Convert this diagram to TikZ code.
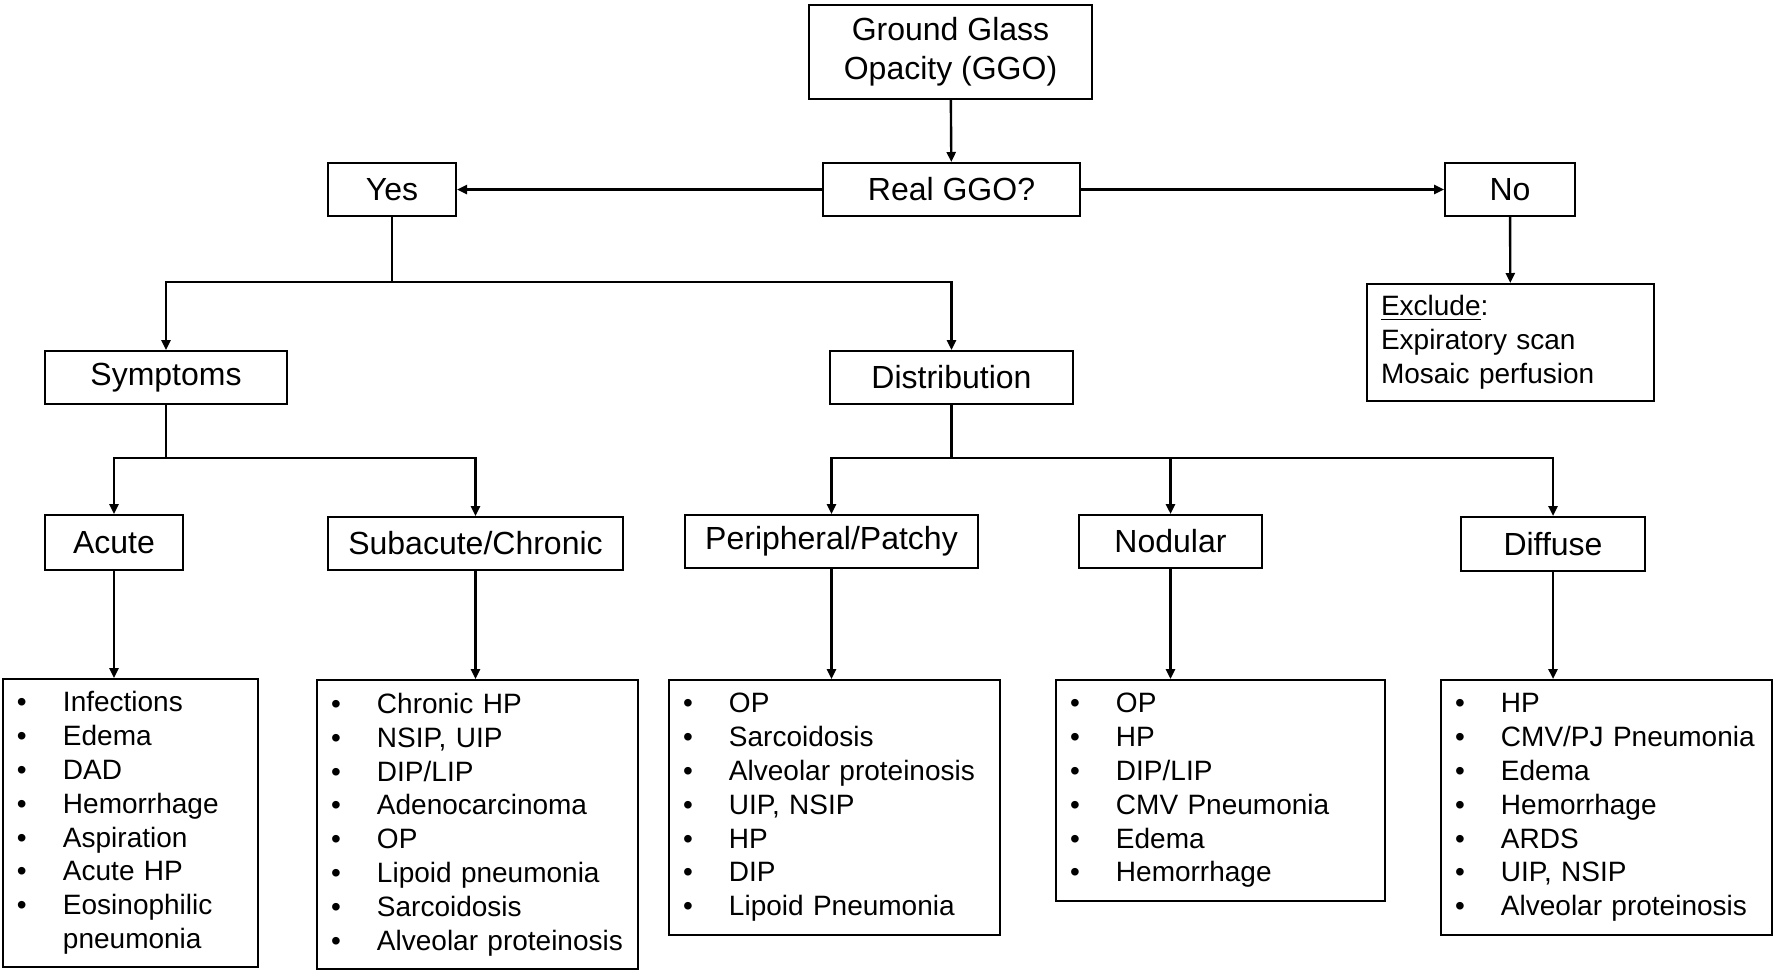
\documentclass[tikz,border=0pt]{standalone}
\usepackage{fontspec}
\setmainfont{Liberation Sans}
\usetikzlibrary{arrows.meta}
\newcommand{\bul}[1]{\makebox[23pt][l]{\textbullet}#1}
\newcommand{\bulcont}[1]{\makebox[23pt][l]{}#1}
\begin{document}
\begin{tikzpicture}[x=0.5pt,y=-0.5pt,
	box/.style={draw,line width=1pt,inner sep=0pt,align=center,font=\fontsize{16}{19.5}\selectfont},
	listbox/.style={draw,line width=1pt,inner xsep=7pt,inner ysep=0pt,align=left,text width=#1,font=\fontsize{14}{16.9}\selectfont},
	link/.style={line width=1.2pt},
	arr/.style={link,-{Triangle[length=5pt,width=4.5pt]}}]
\useasboundingbox (0,0) rectangle (1774,976);
\node[box,minimum width=141.5pt,minimum height=47pt] (ggo) at (950.5,52) {Ground Glass\\Opacity (GGO)};
\node[box,minimum width=128.5pt,minimum height=26.5pt] (real) at (951.5,189.5) {Real GGO?};
\node[box,minimum width=64pt,minimum height=26.5pt] (yes) at (392,189.5) {Yes};
\node[box,minimum width=65pt,minimum height=26.5pt] (no) at (1510,189.5) {No};
\node[listbox=129.5pt,minimum height=58.5pt] (exclude) at (1510.5,342.5) {\underline{Exclude}:\\Expiratory scan\\Mosaic perfusion};
\node[box,minimum width=121pt,minimum height=26.5pt] (symptoms) at (166,377.5) {Symptoms};
\node[box,minimum width=121.5pt,minimum height=26.5pt] (distribution) at (951.5,377.5) {Distribution};
\node[box,minimum width=69pt,minimum height=27.5pt] (acute) at (114,542.5) {Acute};
\node[box,minimum width=147.5pt,minimum height=26.5pt] (subacute) at (475.5,543.5) {Subacute/Chronic};
\node[box,minimum width=146.5pt,minimum height=26.5pt] (peripheral) at (831.5,541.5) {Peripheral/Patchy};
\node[box,minimum width=91.5pt,minimum height=26.5pt] (nodular) at (1170.5,541.5) {Nodular};
\node[box,minimum width=92pt,minimum height=27pt] (diffuse) at (1553,544) {Diffuse};
\node[listbox=113.5pt,minimum height=144pt] (acutelist) at (130.5,823) {\bul{Infections}\\\bul{Edema}\\\bul{DAD}\\\bul{Hemorrhage}\\\bul{Aspiration}\\\bul{Acute HP}\\\bul{Eosinophilic}\\\bulcont{pneumonia}};
\node[listbox=146.5pt,minimum height=144.5pt] (subacutelist) at (477.5,824.5) {\bul{Chronic HP}\\\bul{NSIP, UIP}\\\bul{DIP/LIP}\\\bul{Adenocarcinoma}\\\bul{OP}\\\bul{Lipoid pneumonia}\\\bul{Sarcoidosis}\\\bul{Alveolar proteinosis}};
\node[listbox=151.5pt,minimum height=127.5pt] (peripherallist) at (834.5,807.5) {\bul{OP}\\\bul{Sarcoidosis}\\\bul{Alveolar proteinosis}\\\bul{UIP, NSIP}\\\bul{HP}\\\bul{DIP}\\\bul{Lipoid Pneumonia}};
\node[listbox=150.5pt,minimum height=110.5pt] (nodularlist) at (1220.5,790.5) {\bul{OP}\\\bul{HP}\\\bul{DIP/LIP}\\\bul{CMV Pneumonia}\\\bul{Edema}\\\bul{Hemorrhage}};
\node[listbox=151.5pt,minimum height=127.5pt] (diffuselist) at (1606.5,807.5) {\bul{HP}\\\bul{CMV/PJ Pneumonia}\\\bul{Edema}\\\bul{Hemorrhage}\\\bul{ARDS}\\\bul{UIP, NSIP}\\\bul{Alveolar proteinosis}};
\coordinate (forkyes) at (392,282);
\coordinate (forksym) at (166,458);
\coordinate (forkdist) at (951.5,458);
\draw[arr] (ggo) -- (real);
\draw[arr] (real) -- (yes);
\draw[arr] (real) -- (no);
\draw[arr] (no) -- (exclude);
\draw[link] (yes) -- (forkyes);
\draw[arr] (forkyes) -| (symptoms);
\draw[arr] (forkyes) -| (distribution);
\draw[link] (symptoms) -- (forksym);
\draw[arr] (forksym) -| (acute);
\draw[arr] (forksym) -| (subacute);
\draw[link] (distribution) -- (forkdist);
\foreach \n in {peripheral,nodular,diffuse} {
	\draw[arr] (forkdist) -| (\n);
}
\foreach \n in {acute,subacute,peripheral,nodular,diffuse} {
	\draw[arr] (\n) -- (\n |- \n list.north);
}
\end{tikzpicture}
\end{document}
